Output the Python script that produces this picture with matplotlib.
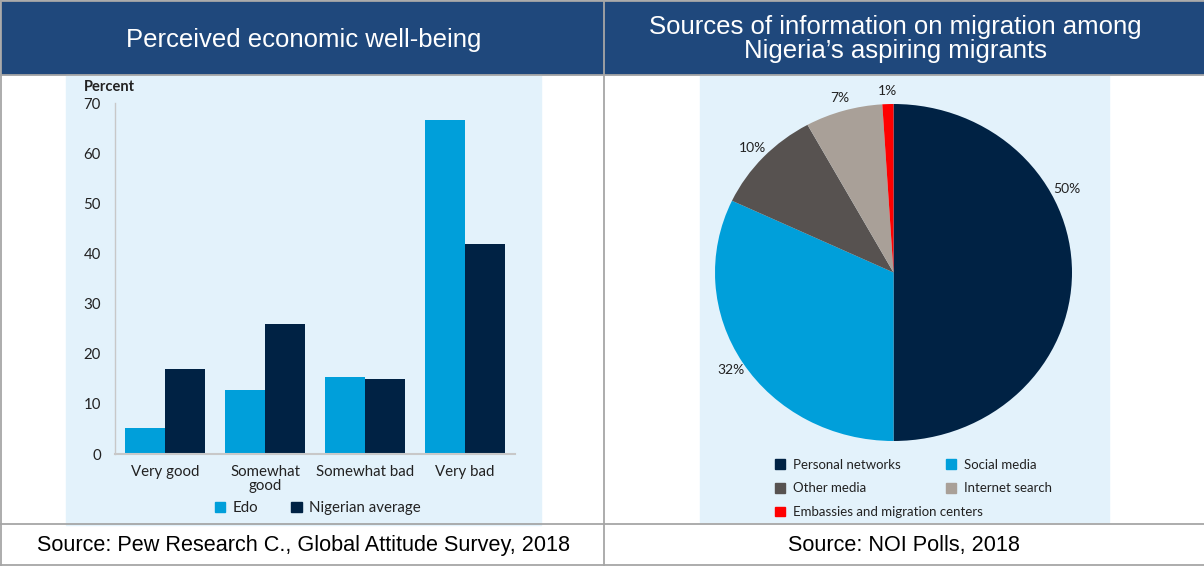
import matplotlib.pyplot as plt
from matplotlib.patches import Rectangle, Patch
import numpy as np

W, H = 1204, 566

# bar chart data
categories = ['Very good', 'Somewhat\ngood', 'Somewhat bad', 'Very bad']
edo = [5.1, 12.8, 15.3, 66.7]
nigeria = [16.9, 25.9, 15.0, 41.9]

# pie data
sources = ['Personal networks', 'Social media', 'Other media', 'Internet search',
           'Embassies and migration centers']
shares = [50, 32, 10, 7, 1]

c_edo = '#009FDA'
c_nav = '#002244'
pie_colors = ['#002244', '#009FDA', '#575250', '#A9A098', '#FF0000']
hdr_blue = '#1F487C'
grid_gray = '#A6A6A6'
panel_bg = '#E3F2FB'
hdr_font = ['Liberation Sans', 'DejaVu Sans']
chart_font = ['Lato', 'DejaVu Sans']
txt = '#222222'


def fx(px):
    return px / W


def fy(py):
    return 1 - py / H


fig = plt.figure(figsize=(W / 100, H / 100), dpi=100)
fig.patch.set_facecolor('white')

# table background: header, panels, borders
bg = fig.add_axes([0, 0, 1, 1])
bg.set_xlim(0, W)
bg.set_ylim(H, 0)
bg.axis('off')
bg.add_patch(Rectangle((1, 1), W, 73, color=hdr_blue, zorder=1))
bg.add_patch(Rectangle((66, 75), 475, 450, color=panel_bg, zorder=1))
bg.add_patch(Rectangle((700, 75), 409, 447, color=panel_bg, zorder=1))
lw = 1.3
for y in [1, 74.5, 523.5, 565]:
    bg.plot([0, W], [y, y], color=grid_gray, lw=lw, zorder=2)
bg.plot([1, 1], [0, H], color=grid_gray, lw=lw, zorder=2)
bg.plot([604, 604], [0, H], color=grid_gray, lw=lw, zorder=2)

bg.text(304, 40, 'Perceived economic well-being', color='white', fontsize=18.5,
        family=hdr_font, ha='center', va='center', zorder=3)
bg.text(895, 39, 'Sources of information on migration among\nNigeria\u2019s aspiring migrants',
        color='white', fontsize=18.5, family=hdr_font, ha='center', va='center',
        linespacing=1.02, zorder=3)
bg.text(304, 546, 'Source: Pew Research C., Global Attitude Survey, 2018', color='black',
        fontsize=15.6, family=hdr_font, ha='center', va='center', zorder=3)
bg.text(904, 546, 'Source: NOI Polls, 2018', color='black',
        fontsize=15.6, family=hdr_font, ha='center', va='center', zorder=3)

# bar chart
ax = fig.add_axes([fx(115), fy(454), fx(400), 351 / H])
ax.set_facecolor('none')
x = np.arange(len(categories))
bw = 0.4
ax.bar(x - bw / 2, edo, bw, color=c_edo, label='Edo')
ax.bar(x + bw / 2, nigeria, bw, color=c_nav, label='Nigerian average')
ax.set_xlim(-0.5, 3.5)
ax.set_ylim(0, 70)
ax.set_yticks(range(0, 71, 10))
ax.set_xticks(x)
ax.set_xticklabels(categories, family=chart_font, fontsize=10.8, color=txt, linespacing=0.95)
for t in ax.get_yticklabels():
    t.set_family(chart_font)
    t.set_fontsize(10.8)
    t.set_color(txt)
ax.tick_params(length=0, pad=8)
ax.tick_params(axis='y', pad=10)
for s in ['top', 'right']:
    ax.spines[s].set_visible(False)
ax.spines['left'].set_color('#C8C8C8')
ax.spines['bottom'].set_color('#C8C8C8')
ax.spines['left'].set_linewidth(1)
ax.spines['bottom'].set_linewidth(1.5)
fig.text(fx(84), fy(87), 'Percent', family=chart_font, fontsize=10.5, fontweight='bold',
         color=txt, ha='left', va='center')
fig.legend(handles=[Patch(color=c_edo, label='Edo'), Patch(color=c_nav, label='Nigerian average')],
           loc='center', bbox_to_anchor=(fx(318), fy(508)), ncol=2, frameon=False,
           prop={'family': chart_font, 'size': 10.8}, handlelength=0.7, handleheight=0.7,
           handletextpad=0.5, columnspacing=2.2, labelcolor=txt)

# pie chart (slightly elliptical like the reference)
pax = fig.add_axes([fx(893.5 - 178.5), fy(272.5 + 168.5), fx(357), 337 / H])
wedges, texts, autotexts = pax.pie(shares, colors=pie_colors, startangle=90, counterclock=False,
                                   autopct='%d%%', pctdistance=1.08,
                                   textprops={'family': chart_font, 'fontsize': 10,
                                              'color': txt})
pax.set_aspect('auto')
pax.set_xlim(-1, 1)
pax.set_ylim(-1, 1)
# the 50% label sits up on the right, not at the slice middle
a = np.deg2rad(27)
autotexts[0].set_position((1.09 * np.cos(a), 1.09 * np.sin(a)))

# pie legend: two columns placed separately (long last entry overlaps column 2)
leg_kw = dict(loc='upper left', ncol=1, frameon=False,
              prop={'family': chart_font, 'size': 9.5}, handlelength=0.75, handleheight=0.75,
              handletextpad=0.6, labelspacing=0.88, labelcolor=txt)
fig.legend(handles=[Patch(color=pie_colors[i], label=sources[i]) for i in [0, 2, 4]],
           bbox_to_anchor=(fx(763), fy(447)), **leg_kw)
fig.legend(handles=[Patch(color=pie_colors[i], label=sources[i]) for i in [1, 3]],
           bbox_to_anchor=(fx(934), fy(447)), **leg_kw)

fig.savefig('out.png', dpi=100)
